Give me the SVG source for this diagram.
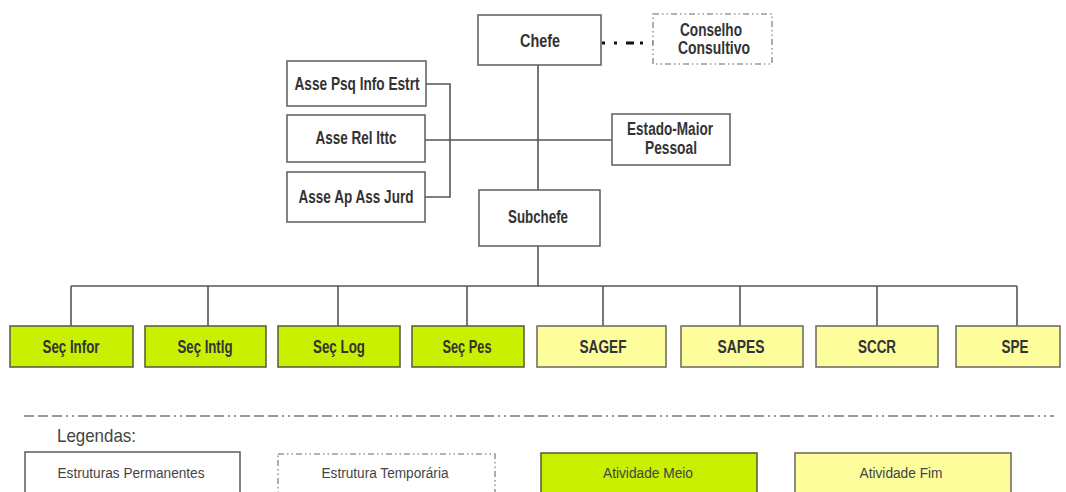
<svg xmlns="http://www.w3.org/2000/svg" width="1066" height="492" viewBox="0 0 1066 492">
<style>
.box{fill:#fff;stroke:#666;stroke-width:1.6}
.meio{fill:#c8f000;stroke:#5c6340;stroke-width:1.6}
.fim{fill:#fdfd9c;stroke:#707064;stroke-width:1.6}
.temp{fill:#fff;stroke:#999;stroke-width:1.6;stroke-dasharray:6 3 1.5 3 1.5 3}
.lbl{font-family:"Liberation Sans",Arial,sans-serif;font-weight:bold;font-size:17.5px;fill:#333;text-anchor:middle}
.leg{font-family:"Liberation Sans",Arial,sans-serif;font-size:15.5px;fill:#444;text-anchor:middle}
.ln{fill:none;stroke:#555;stroke-width:1.6}
</style>
<rect width="1066" height="492" fill="#fff"/>
<g id="connectors">
<path class="ln" d="M538,65V190M538,246V286M71,286H1017M71,286V326M208,286V326M338,286V326M467,286V326M603,286V326M740,286V326M877,286V326M1017,286V326"/>
<path class="ln" d="M426,84H450V197H425M425,140H612"/>
<path d="M602,43H653" fill="none" stroke="#111" stroke-width="3.2" stroke-dasharray="3 9 3 9 8 6 3 9 3 20"/>
</g>
<g id="chefe"><rect class="box" x="478" y="15" width="123" height="50"/><text class="lbl" x="540" y="47" textLength="40" lengthAdjust="spacingAndGlyphs">Chefe</text></g>
<g id="conselho"><rect class="temp" x="653" y="14" width="119" height="50"/><text class="lbl" x="711" y="36" textLength="62" lengthAdjust="spacingAndGlyphs">Conselho</text><text class="lbl" x="714" y="54" textLength="72" lengthAdjust="spacingAndGlyphs">Consultivo</text></g>
<g id="asse-psq"><rect class="box" x="287" y="61" width="139" height="45"/><text class="lbl" x="357" y="90" textLength="125" lengthAdjust="spacingAndGlyphs">Asse Psq Info Estrt</text></g>
<g id="asse-rel"><rect class="box" x="287" y="115" width="138" height="47"/><text class="lbl" x="356" y="144" textLength="81" lengthAdjust="spacingAndGlyphs">Asse Rel Ittc</text></g>
<g id="asse-ap"><rect class="box" x="287" y="172" width="138" height="50"/><text class="lbl" x="356" y="203" textLength="115" lengthAdjust="spacingAndGlyphs">Asse Ap Ass Jurd</text></g>
<g id="estado-maior"><rect class="box" x="612" y="114" width="118" height="51"/><text class="lbl" x="670" y="135" textLength="86" lengthAdjust="spacingAndGlyphs">Estado-Maior</text><text class="lbl" x="671" y="154" textLength="52" lengthAdjust="spacingAndGlyphs">Pessoal</text></g>
<g id="subchefe"><rect class="box" x="479" y="190" width="121" height="56"/><text class="lbl" x="538" y="223" textLength="60" lengthAdjust="spacingAndGlyphs">Subchefe</text></g>
<g id="sec-infor"><rect class="meio" x="10" y="326" width="123" height="41"/><text class="lbl" x="71" y="353" textLength="57" lengthAdjust="spacingAndGlyphs">Seç Infor</text></g>
<g id="sec-intlg"><rect class="meio" x="145" y="326" width="121" height="41"/><text class="lbl" x="205" y="353" textLength="55" lengthAdjust="spacingAndGlyphs">Seç Intlg</text></g>
<g id="sec-log"><rect class="meio" x="278" y="326" width="122" height="41"/><text class="lbl" x="339" y="353" textLength="52" lengthAdjust="spacingAndGlyphs">Seç Log</text></g>
<g id="sec-pes"><rect class="meio" x="412" y="326" width="112" height="41"/><text class="lbl" x="467" y="353" textLength="49" lengthAdjust="spacingAndGlyphs">Seç Pes</text></g>
<g id="sagef"><rect class="fim" x="537" y="326" width="129" height="41"/><text class="lbl" x="603" y="353" textLength="47" lengthAdjust="spacingAndGlyphs">SAGEF</text></g>
<g id="sapes"><rect class="fim" x="681" y="326" width="122" height="41"/><text class="lbl" x="741" y="353" textLength="47" lengthAdjust="spacingAndGlyphs">SAPES</text></g>
<g id="sccr"><rect class="fim" x="816" y="326" width="122" height="41"/><text class="lbl" x="877" y="353" textLength="38" lengthAdjust="spacingAndGlyphs">SCCR</text></g>
<g id="spe"><rect class="fim" x="956" y="326" width="104" height="41"/><text class="lbl" x="1015" y="353" textLength="27" lengthAdjust="spacingAndGlyphs">SPE</text></g>
<g id="legend">
<path d="M24,416H1054" fill="none" stroke="#777" stroke-width="1.5" stroke-dasharray="10 4 10 4 10 4 2 4 2 4"/>
<text x="57" y="442" font-family="'Liberation Sans',Arial,sans-serif" font-size="19" fill="#444" textLength="79" lengthAdjust="spacingAndGlyphs">Legendas:</text>
<rect class="box" x="25" y="452" width="215" height="50"/><text class="leg" x="131" y="478" textLength="147" lengthAdjust="spacingAndGlyphs">Estruturas Permanentes</text>
<rect class="temp" x="278" y="454" width="217" height="50"/><text class="leg" x="385" y="478" textLength="127" lengthAdjust="spacingAndGlyphs">Estrutura Temporária</text>
<rect class="meio" x="541" y="453" width="216" height="50"/><text class="leg" x="648" y="478" textLength="90" lengthAdjust="spacingAndGlyphs">Atividade Meio</text>
<rect class="fim" x="795" y="453" width="216" height="50"/><text class="leg" x="901" y="478" textLength="83" lengthAdjust="spacingAndGlyphs">Atividade Fim</text>
</g>
</svg>
